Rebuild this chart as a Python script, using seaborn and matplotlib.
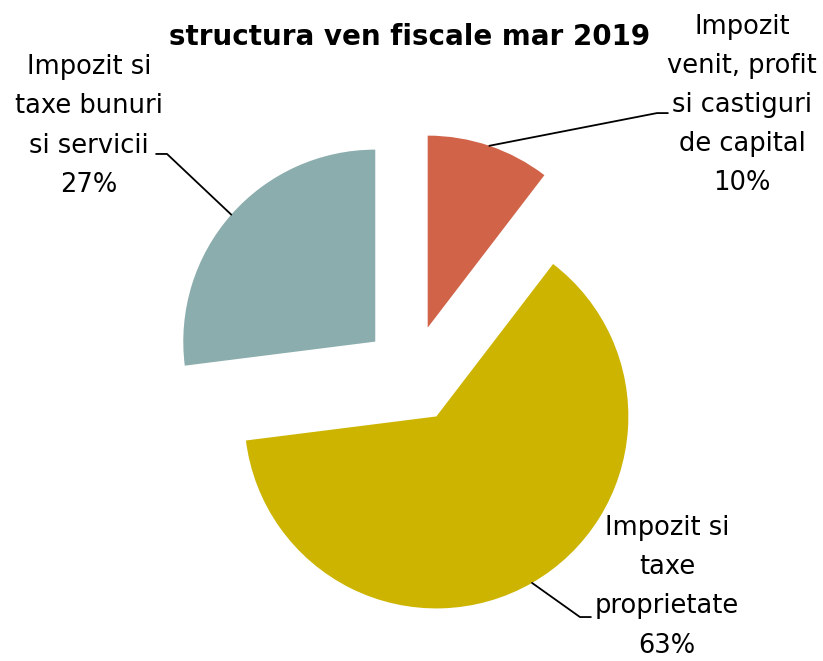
import numpy as np
import matplotlib
matplotlib.use('Agg')
import matplotlib.pyplot as plt
import seaborn as sns

# Data
categories = ['Impozit\nvenit, profit\nsi castiguri\nde capital',
              'Impozit si\ntaxe\nproprietate',
              'Impozit si\ntaxe bunuri\nsi servicii']
shares = [10.4, 62.6, 27.0]
colors = ['#D16349', '#CCB400', '#8CADAE']
title = 'structura ven fiscale mar 2019'

sns.set_style('white')
plt.rcParams['font.family'] = ['DejaVu Sans']
plt.rcParams['text.color'] = 'black'
palette = sns.color_palette(colors)

fig = plt.figure(figsize=(8.23, 6.61), dpi=100)
ax = fig.add_axes([0, 0, 1, 1])

explode = 0.255
wedges, _ = ax.pie(shares, colors=palette, startangle=90, counterclock=False,
                   explode=[explode] * len(shares), radius=1.0,
                   wedgeprops=dict(linewidth=0))

ax.set_xlim(-2.146, 2.141)
ax.set_ylim(-1.495, 1.948)
ax.set_aspect('auto')
ax.axis('off')

# label layout: (elbow point, label centre), sign gives side of horizontal stub
layout = [((1.276, 1.359), (1.719, 1.401), 1),
          ((0.875, -1.266), (1.328, -1.108), 1),
          ((-1.276, 1.146), (-1.682, 1.292), -1)]

total = sum(shares)
for w, cat, val, (elbow, centre, side) in zip(wedges, categories, shares, layout):
    mid = np.deg2rad((w.theta1 + w.theta2) / 2)
    ox, oy = w.center
    sx, sy = ox + np.cos(mid), oy + np.sin(mid)
    ex, ey = elbow
    ax.plot([sx, ex, ex + side * 0.057], [sy, ey, ey], color='black', lw=1.3)
    ax.text(centre[0], centre[1], f'{cat}\n{round(val / total * 100):.0f}%',
            ha='center', va='center', multialignment='center',
            fontsize=18.5, linespacing=1.66, color='black')

fig.text(0.498, 0.944, title, ha='center', va='center',
         fontsize=20, fontweight='bold', color='black')

plt.savefig('out.png', dpi=100)
plt.close()
